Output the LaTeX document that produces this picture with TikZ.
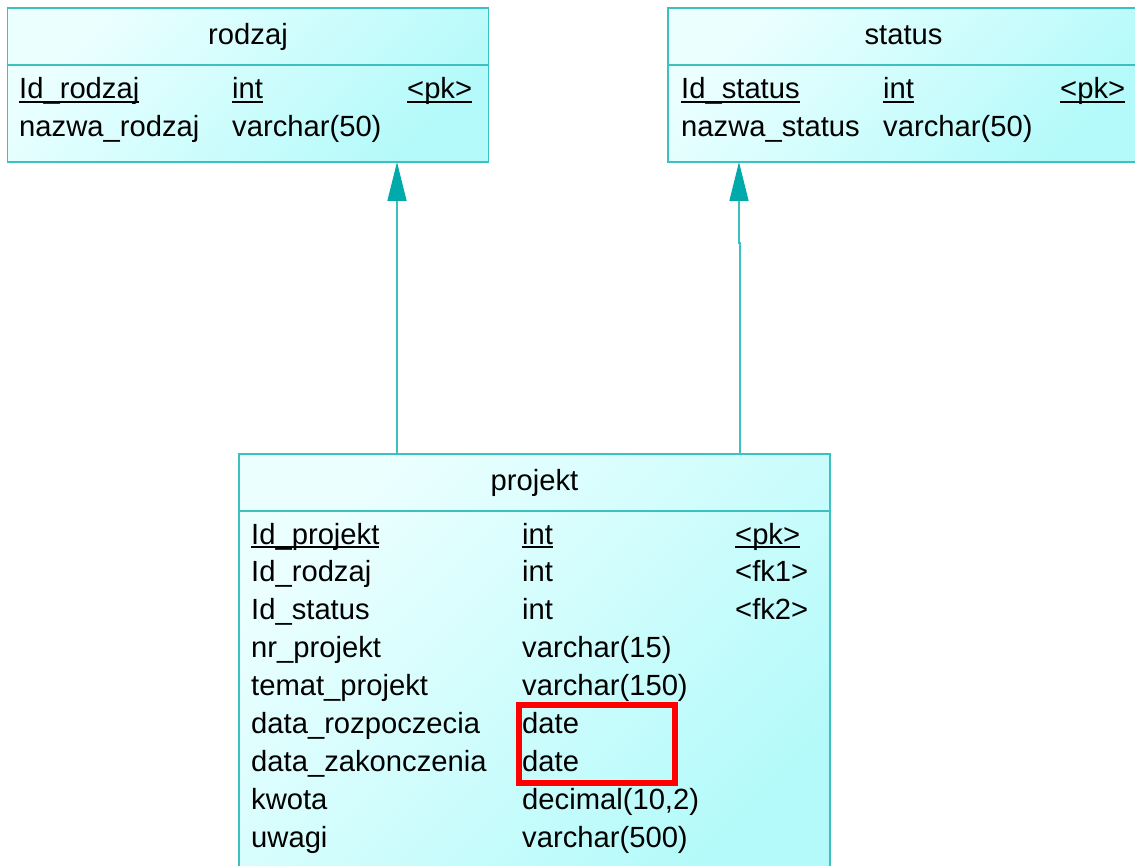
\documentclass[tikz,border=0pt]{standalone}
\usepackage{fontspec}
\setmainfont{Liberation Sans}
\usetikzlibrary{arrows.meta}
\definecolor{bord}{RGB}{60,192,192}
\definecolor{lightc}{RGB}{236,255,255}
\definecolor{darkc}{RGB}{180,250,250}
\definecolor{headc}{RGB}{0,170,170}
\newcommand\ulx[1]{\setbox0\hbox{#1}\rlap{\rule[-0.15em]{\wd0}{0.07em}}\box0}
\begin{document}
\begin{tikzpicture}[x=1pt,y=-1pt,
  tbl/.style={draw=bord, line width=1.6pt, top color=lightc, bottom color=darkc, shading angle=45, inner sep=0, outer sep=0},
  sep/.style={draw=bord, line width=1.6pt},
  txt/.style={anchor=base west, inner sep=0, font=\fontsize{29.2}{34}\selectfont},
  ttl/.style={anchor=base, inner sep=0, font=\fontsize{29.2}{34}\selectfont},
  rel/.style={draw=bord, line width=1.6pt, -{Triangle[length=39pt,width=19pt,color=headc,fill=headc]}},
  hl/.style={draw=red, line width=5.5pt, inner sep=0}]
\useasboundingbox (0,0) rectangle (1135,866);
% tables
\node[tbl, minimum width=481pt, minimum height=154pt] (rodzaj) at (248,85) {};
\node[tbl, minimum width=471pt, minimum height=154pt] (status) at (903.5,85) {};
\node[tbl, minimum width=591pt, minimum height=432pt] (projekt) at (534.5,670) {};
\draw[sep] (rodzaj.west |- 0,65) -- (rodzaj.east |- 0,65);
\draw[sep] (status.west |- 0,65) -- (status.east |- 0,65);
\draw[sep] (projekt.west |- 0,511) -- (projekt.east |- 0,511);
% titles
\node[ttl] (trodzaj) at (248,45) {rodzaj};
\node[ttl] (tstatus) at (903.5,45) {status};
\node[ttl] (tprojekt) at (534.5,490) {projekt};
% rodzaj rows
\node[txt] (r1a) at (19,99) {\ulx{Id\_rodzaj}};
\node[txt] (r1b) at (232,99) {\ulx{int}};
\node[txt] (r1c) at (407,99) {\ulx{<pk>}};
\node[txt] (r2a) at (19,137) {nazwa\_rodzaj};
\node[txt] (r2b) at (232,137) {varchar(50)};
% status rows
\node[txt] (s1a) at (681,99) {\ulx{Id\_status}};
\node[txt] (s1b) at (883,99) {\ulx{int}};
\node[txt] (s1c) at (1060,99) {\ulx{<pk>}};
\node[txt] (s2a) at (681,137) {nazwa\_status};
\node[txt] (s2b) at (883,137) {varchar(50)};
% projekt rows
\node[txt] (p1a) at (251,544) {\ulx{Id\_projekt}};
\node[txt] (p1b) at (522,544) {\ulx{int}};
\node[txt] (p1c) at (735,544) {\ulx{<pk>}};
\node[txt] (p2a) at (251,581.9) {Id\_rodzaj};
\node[txt] (p2b) at (522,581.9) {int};
\node[txt] (p2c) at (735,581.9) {<fk1>};
\node[txt] (p3a) at (251,619.8) {Id\_status};
\node[txt] (p3b) at (522,619.8) {int};
\node[txt] (p3c) at (735,619.8) {<fk2>};
\node[txt] (p4a) at (251,657.7) {nr\_projekt};
\node[txt] (p4b) at (522,657.7) {varchar(15)};
\node[txt] (p5a) at (251,695.6) {temat\_projekt};
\node[txt] (p5b) at (522,695.6) {varchar(150)};
\node[txt] (p6a) at (251,733.5) {data\_rozpoczecia};
\node[txt] (p6b) at (522,733.5) {date};
\node[txt] (p7a) at (251,771.4) {data\_zakonczenia};
\node[txt] (p7b) at (522,771.4) {date};
\node[txt] (p8a) at (251,809.3) {kwota};
\node[txt] (p8b) at (522,809.3) {decimal(10,2)};
\node[txt] (p9a) at (251,847.2) {uwagi};
\node[txt] (p9b) at (522,847.2) {varchar(500)};
% highlight
\node[hl, minimum width=156pt, minimum height=78pt] (mark1) at (597,744) {};
% relations
\draw[rel] (projekt.north -| 397,0) -- (rodzaj.south -| 397,0);
\coordinate (jog1) at (740,243);
\coordinate (jog2) at (739,243);
\draw[rel] (projekt.north -| 740,0) -- (jog1) -- (jog2) -- (status.south -| 739,0);
\end{tikzpicture}
\end{document}
